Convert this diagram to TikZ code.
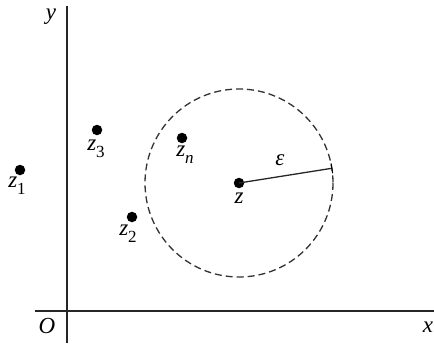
\documentclass[tikz,border=0pt]{standalone}
\usepackage{fontspec}
\setmainfont{Liberation Serif}
\usetikzlibrary{calc}
\newcommand\zsub[1]{\textit{z}\raisebox{-0.3em}{\fontsize{17}{17}\selectfont #1}}
\begin{document}
\begin{tikzpicture}[x=1pt,y=-1pt,
  dot/.style={circle,fill=black,inner sep=0pt,minimum size=10.5pt},
  lbl/.style={inner sep=0pt,font=\fontsize{23}{26}\selectfont},
  axis/.style={line width=1.3pt,draw=black!85},
]
\useasboundingbox (0,0) rectangle (434,345);
% axes
\coordinate (xa) at (35,311);
\coordinate (xb) at (434,311);
\coordinate (ya) at (67,343);
\coordinate (yb) at (67,6);
\draw[axis] (xa) -- (xb);
\draw[axis] (ya) -- (yb);
\node[lbl] (O) at (47,326) {\textit{O}};
\node[lbl] (ylab) at (51,17) {\textit{y}};
\node[lbl] (xlab) at (428,327) {\textit{x}};
% points
\node[dot] (z1) at (20,170) {};
\node[lbl] (l1) at (17,186) {\zsub{1}};
\node[dot] (z3) at (97,130) {};
\node[lbl] (l3) at (96,149) {\zsub{3}};
\node[dot] (zn) at (182,138) {};
\node[lbl] (ln) at (185,155) {\zsub{\textit{n}}};
\node[dot] (z2) at (132,217) {};
\node[lbl] (l2) at (128,234) {\zsub{2}};
\node[dot] (z) at (239,183) {};
\node[lbl] (lz) at (239,198) {\textit{z}};
% circle
\draw[line width=1.3pt,draw=black!80,dash pattern=on 7pt off 4pt] (z.center) circle[radius=94];
\coordinate (r) at ($(z.center)+(-9:94)$);
\draw[line width=1.3pt,draw=black!85] (z.center) -- (r);
\draw[line width=1pt] ($(r)+(-99:5)$) -- ($(r)+(81:5)$);
\node[lbl] (eps) at (280,160) {\textit{ε}};
\end{tikzpicture}
\end{document}
